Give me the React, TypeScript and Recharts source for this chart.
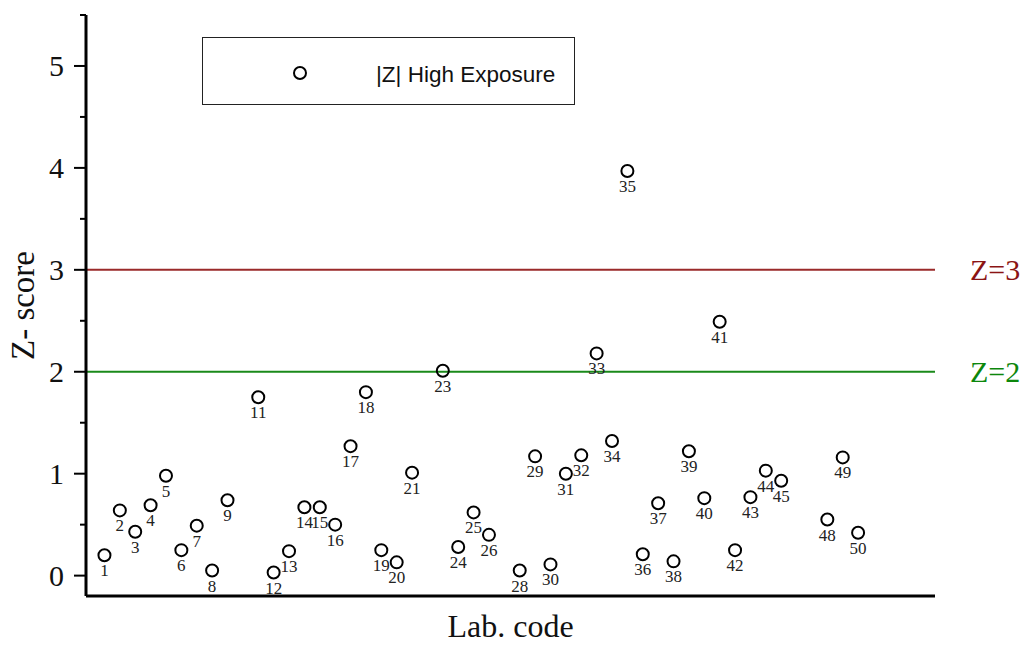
import React from 'react';
import {
  ScatterChart,
  Scatter,
  XAxis,
  YAxis,
  ReferenceLine,
  Legend,
} from 'recharts';

// lab codes that reported (10, 22, 27, 46, 47 are absent)
const labCodes = [
  1, 2, 3, 4, 5, 6, 7, 8, 9, 11, 12, 13, 14, 15, 16, 17, 18, 19, 20, 21, 23, 24, 25, 26,
  28, 29, 30, 31, 32, 33, 34, 35, 36, 37, 38, 39, 40, 41, 42, 43, 44, 45, 48, 49, 50,
];

// |Z| values
const zScores = [
  0.2, 0.64, 0.43, 0.69, 0.98, 0.25, 0.49, 0.05, 0.74, 1.75, 0.03, 0.24, 0.67, 0.67, 0.5,
  1.27, 1.8, 0.25, 0.13, 1.01, 2.01, 0.28, 0.62, 0.4, 0.05, 1.17, 0.11, 1.0, 1.18, 2.18,
  1.32, 3.97, 0.21, 0.71, 0.14, 1.22, 0.76, 2.49, 0.25, 0.77, 1.03, 0.93, 0.55, 1.16, 0.42,
];

const yTicks = [0, 0.5, 1, 1.5, 2, 2.5, 3, 3.5, 4, 4.5, 5, 5.5];
const limits = [
  { z: 2, label: 'Z=2', line: '#1a8a1a', text: '#0c870c' },
  { z: 3, label: 'Z=3', line: '#9a2a2a', text: '#8b1414' },
];

const seriesName = '|Z| High Exposure';

const data = labCodes.map((lab, i) => ({ lab, z: zScores[i] }));

const serif = '"Liberation Serif", "Times New Roman", serif';

const renderYTick = (props: any) => {
  const { x, y, payload } = props;
  const major = Number.isInteger(payload.value);
  return (
    <g>
      <line x1={x - (major ? 12 : 6)} x2={x} y1={y} y2={y} stroke="#000" strokeWidth={2} />
      {major && (
        <text x={x - 22} y={y} dy={10} textAnchor="end" fontFamily={serif} fontSize={30} fill="#111">
          {payload.value}
        </text>
      )}
    </g>
  );
};

const renderPoint = (props: any) => {
  const { cx, cy, payload } = props;
  return (
    <g>
      <circle cx={cx} cy={cy} r={6} fill="none" stroke="#000" strokeWidth={2} />
      <text x={cx} y={cy + 21} textAnchor="middle" fontFamily={serif} fontSize={17} fill="#222">
        {payload.lab}
      </text>
    </g>
  );
};

const YTitle = (props: any) => {
  const vb = props.viewBox ?? { x: 0, y: 15, width: 86, height: 581 };
  const cy = vb.y + vb.height / 2;
  return (
    <text
      x={34}
      y={cy}
      transform={`rotate(-90 34 ${cy})`}
      textAnchor="middle"
      fontFamily={serif}
      fontSize={33}
      fill="#111"
    >
      Z- score
    </text>
  );
};

const LegendBox = () => (
  <div
    style={{
      width: '100%',
      height: '100%',
      boxSizing: 'border-box',
      border: '1px solid #222',
      background: '#fff',
      position: 'relative',
    }}
  >
    <svg width={16} height={16} style={{ position: 'absolute', left: 89, top: 27 }}>
      <circle cx={8} cy={8} r={6} fill="none" stroke="#000" strokeWidth={2} />
    </svg>
    <span
      style={{
        position: 'absolute',
        left: 173,
        top: 25,
        fontFamily: '"Liberation Sans", Arial, sans-serif',
        fontSize: 22.5,
        color: '#111',
        lineHeight: '24px',
        whiteSpace: 'nowrap',
      }}
    >
      {seriesName}
    </span>
  </div>
);

export default function App() {
  return (
    <div style={{ position: 'absolute', left: 0, top: 0, background: '#fff' }}>
      <ScatterChart width={1028} height={645} margin={{ top: 15, right: 93, bottom: 1, left: 0 }}>
        <XAxis
          type="number"
          dataKey="lab"
          domain={[-0.2, 55]}
          allowDataOverflow
          tick={false}
          tickLine={false}
          height={48}
          axisLine={{ stroke: '#000', strokeWidth: 3 }}
          label={{
            value: 'Lab. code',
            position: 'insideBottom',
            offset: 7,
            fontFamily: serif,
            fontSize: 32,
            fill: '#111',
          }}
        />
        <YAxis
          type="number"
          dataKey="z"
          domain={[-0.2, 5.5]}
          allowDataOverflow
          ticks={yTicks}
          interval={0}
          width={86}
          tickSize={0}
          tickMargin={0}
          tickLine={false}
          tick={renderYTick}
          axisLine={{ stroke: '#000', strokeWidth: 3 }}
          label={{ content: YTitle }}
        />
        {limits.map((l) => (
          <ReferenceLine
            key={l.label}
            y={l.z}
            stroke={l.line}
            strokeWidth={2}
            label={{
              value: l.label,
              position: 'right',
              offset: 35,
              fill: l.text,
              fontFamily: serif,
              fontSize: 30,
            }}
          />
        ))}
        <Legend
          layout="vertical"
          align="center"
          verticalAlign="middle"
          content={() => <LegendBox />}
          wrapperStyle={{ left: 202, top: 37, width: 373, height: 68 }}
        />
        <Scatter name={seriesName} data={data} shape={renderPoint} isAnimationActive={false} />
      </ScatterChart>
    </div>
  );
}
